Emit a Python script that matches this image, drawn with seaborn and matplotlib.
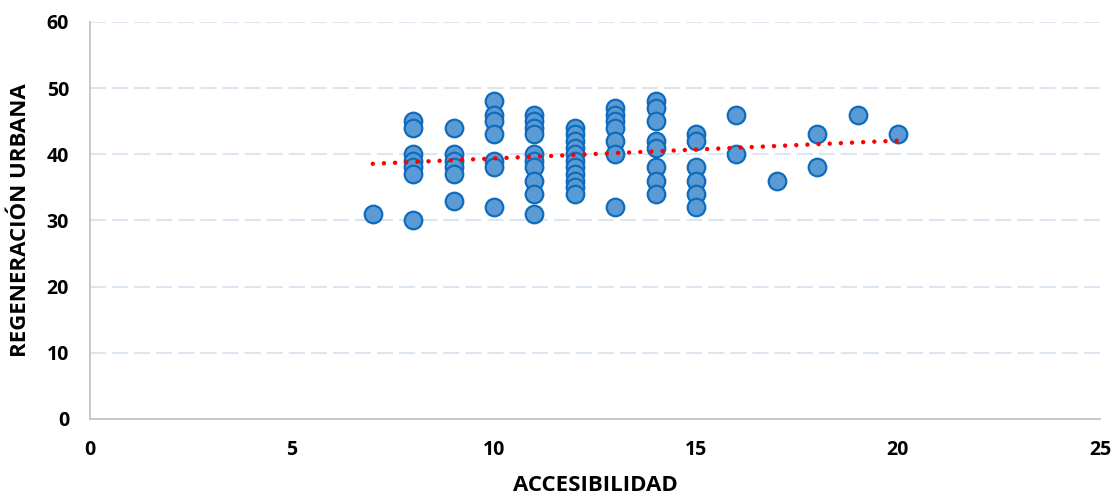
import matplotlib
matplotlib.use("Agg")
import matplotlib.pyplot as plt
import seaborn as sns
import numpy as np
import pandas as pd

# accessibility score -> list of urban regeneration scores
acc_values = [7, 8, 9, 10, 11, 12, 13, 14, 15, 16, 17, 18, 19, 20]
reg_values = [
    [31],
    [45, 44, 40, 39, 38, 37, 30],
    [44, 40, 39, 38, 37, 33],
    [48, 46, 45, 43, 39, 38, 32],
    [46, 45, 44, 43, 40, 39, 38, 36, 34, 31],
    [44, 43, 42, 41, 40, 39, 38, 37, 36, 35, 34],
    [47, 46, 45, 44, 42, 40, 32],
    [48, 47, 45, 42, 41, 38, 36, 34],
    [43, 42, 38, 36, 34, 32],
    [46, 40],
    [36],
    [43, 38],
    [46],
    [43],
]

rows = []
for acc, regs in zip(acc_values, reg_values):
    for r in regs:
        rows.append({"ACCESIBILIDAD": acc, "REGENERACIÓN URBANA": r})
df = pd.DataFrame(rows)

sns.set_theme(style="white")
plt.rcParams["font.family"] = ["Open Sans", "DejaVu Sans"]
plt.rcParams["text.color"] = "black"
plt.rcParams["axes.labelcolor"] = "black"
plt.rcParams["xtick.labelcolor"] = "black"
plt.rcParams["ytick.labelcolor"] = "black"

fig = plt.figure(figsize=(11.15, 4.97), dpi=100)
ax = fig.add_axes([0.0807, 0.157, 0.9058, 0.799])

# light dashed horizontal gridlines
for yv in range(10, 61, 10):
    ax.axhline(yv, color="#DCE6F2", lw=1.5, linestyle=(0, (7.7, 2.9)), zorder=0)

sns.scatterplot(data=df, x="ACCESIBILIDAD", y="REGENERACIÓN URBANA", ax=ax,
                s=160, color="#5B9BD5", edgecolor="#0F6CBD", linewidth=1.6,
                zorder=3)

# linear trendline, dotted red
sns.regplot(data=df, x="ACCESIBILIDAD", y="REGENERACIÓN URBANA", ax=ax,
            scatter=False, ci=None, truncate=True,
            line_kws=dict(color="#FF0000", lw=3.2,
                          linestyle=(0, (0.01, 2.5)),
                          dash_capstyle="round", zorder=4))

ax.set_xlim(0, 25)
ax.set_ylim(0, 60)
ax.set_xticks(range(0, 26, 5))
ax.set_yticks(range(0, 61, 10))

for side in ["top", "right"]:
    ax.spines[side].set_visible(False)
for side in ["left", "bottom"]:
    ax.spines[side].set_color("#BFBFBF")
    ax.spines[side].set_linewidth(1.2)

ax.tick_params(axis="both", direction="out", length=5, width=1.2,
               color="#BFBFBF", labelsize=14, labelcolor="black")
ax.tick_params(axis="x", pad=10)
ax.tick_params(axis="y", pad=10)
for lab in ax.get_xticklabels() + ax.get_yticklabels():
    lab.set_fontweight("bold")

ax.set_xlabel("ACCESIBILIDAD", fontsize=16, fontweight="bold", labelpad=11,
              color="black")
ax.set_ylabel("REGENERACIÓN URBANA", fontsize=16, fontweight="bold", labelpad=11,
              color="black")

fig.savefig("out.png", dpi=100)
